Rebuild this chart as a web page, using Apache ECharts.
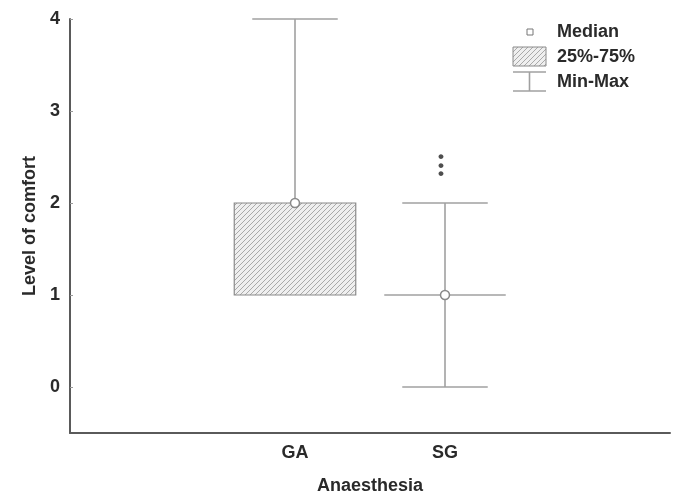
<!DOCTYPE html>
<html>
<head>
<meta charset="utf-8">
<script src="https://cdn.jsdelivr.net/npm/echarts@6/dist/echarts.min.js"></script>
<style>html,body{margin:0;padding:0;background:#fff}#c{width:675px;height:496px}</style>
</head>
<body>
<div id="c"></div>
<script>
// ---- data ----
const categories = ['', 'GA', 'SG', ''];
const groups = ['GA', 'SG'];
const minVals = [1, 0];
const q1Vals = [1, 1];
const medianVals = [2, 1];
const q3Vals = [2, 1];
const maxVals = [4, 2];
const yTicks = [0, 1, 2, 3, 4];
const sigGroup = 'SG';
const sigValue = 2.4;
const sigLabel = '•\n•\n•';
const legendLabels = ['Median', '25%-75%', 'Min-Max'];

// ---- hatch pattern ----
function makeHatch() {
  const s = 5;
  const c = document.createElement('canvas');
  c.width = s; c.height = s;
  const g = c.getContext('2d');
  g.fillStyle = '#efefef';
  g.fillRect(0, 0, s, s);
  g.strokeStyle = '#a9a9a9';
  g.lineWidth = 1;
  g.beginPath();
  g.moveTo(0, s); g.lineTo(s, 0);
  g.moveTo(-1, 1); g.lineTo(1, -1);
  g.moveTo(s - 1, s + 1); g.lineTo(s + 1, s - 1);
  g.stroke();
  return c;
}
const hatch = makeHatch();
const hatchFill = { image: hatch, repeat: 'repeat' };

const FONT = '"Liberation Sans", Arial, sans-serif';
const TXT = '#2a2a2a';
const LINE = '#a0a0a0';
const FS = 18;

const boxData = groups.map((g, i) => [g, minVals[i], q1Vals[i], medianVals[i], q3Vals[i], maxVals[i]]);
const medianData = groups.map((g, i) => [g, medianVals[i]]);

const chart = echarts.init(document.getElementById('c'), null, { renderer: 'canvas' });

function renderBox(params, api) {
  const x = api.value(0);
  const vMin = api.value(1), vQ1 = api.value(2), vQ3 = api.value(4), vMax = api.value(5);
  const band = api.size([1, 0])[0];
  const boxW = band * 0.81;
  const capW = band * 0.57;
  const pMin = api.coord([x, vMin]);
  const pQ1 = api.coord([x, vQ1]);
  const pQ3 = api.coord([x, vQ3]);
  const pMax = api.coord([x, vMax]);
  const cx = pQ1[0];
  const ls = { stroke: LINE, lineWidth: 1.6 };
  const children = [];
  if (vMax > vQ3) {
    children.push({ type: 'line', shape: { x1: cx, y1: pMax[1], x2: cx, y2: pQ3[1] }, style: ls });
    children.push({ type: 'line', shape: { x1: cx - capW / 2, y1: pMax[1], x2: cx + capW / 2, y2: pMax[1] }, style: ls });
  }
  if (vMin < vQ1) {
    children.push({ type: 'line', shape: { x1: cx, y1: pQ1[1], x2: cx, y2: pMin[1] }, style: ls });
    children.push({ type: 'line', shape: { x1: cx - capW / 2, y1: pMin[1], x2: cx + capW / 2, y2: pMin[1] }, style: ls });
  }
  if (vQ3 > vQ1) {
    children.push({ type: 'rect', shape: { x: cx - boxW / 2, y: pQ3[1], width: boxW, height: pQ1[1] - pQ3[1] },
      style: { fill: hatchFill, stroke: '#8a8a8a', lineWidth: 1.2 } });
  } else {
    children.push({ type: 'line', shape: { x1: cx - boxW / 2, y1: pQ1[1], x2: cx + boxW / 2, y2: pQ1[1] }, style: ls });
  }
  return { type: 'group', children };
}

const legendX = 513, legendY = 22;
const option = {
  animation: false,
  backgroundColor: '#fff',
  grid: { left: 70, right: 5, top: 19, bottom: 63, containLabel: false, outerBoundsMode: 'none' },
  xAxis: {
    type: 'category',
    data: categories,
    boundaryGap: true,
    name: 'Anaesthesia',
    nameLocation: 'middle',
    nameGap: 44,
    nameTextStyle: { fontFamily: FONT, fontWeight: 'bold', fontSize: FS, color: TXT },
    axisLine: { onZero: false, lineStyle: { color: '#5a5a5a', width: 2 } },
    axisTick: { show: false },
    axisLabel: { fontFamily: FONT, fontWeight: 'bold', fontSize: FS, color: TXT, margin: 11 },
    splitLine: { show: false }
  },
  yAxis: {
    type: 'value',
    min: -0.5,
    max: 4,
    interval: 0.5,
    name: 'Level of comfort',
    nameLocation: 'middle',
    nameGap: 31,
    nameTextStyle: { fontFamily: FONT, fontWeight: 'bold', fontSize: FS, color: TXT },
    axisLine: { show: true, onZero: false, lineStyle: { color: '#5a5a5a', width: 2 } },
    axisTick: { show: true, inside: true, length: 3, lineStyle: { color: '#999' },
      customValues: yTicks },
    axisLabel: { fontFamily: FONT, fontWeight: 'bold', fontSize: FS, color: TXT, margin: 10,
      customValues: yTicks },
    splitLine: { show: false }
  },
  series: [
    {
      type: 'custom',
      renderItem: renderBox,
      data: boxData,
      encode: { x: 0, y: [1, 2, 3, 4, 5] },
      z: 2
    },
    {
      type: 'scatter',
      data: medianData,
      symbol: 'circle',
      symbolSize: 9,
      itemStyle: { color: '#fff', borderColor: '#8a8a8a', borderWidth: 1.5, opacity: 1 },
      z: 3
    },
    {
      type: 'scatter',
      data: [[sigGroup, sigValue]],
      symbolSize: 0,
      label: { show: true, position: 'inside', formatter: sigLabel, fontSize: 17, lineHeight: 8.5,
        color: '#222', fontFamily: FONT, fontWeight: 'bold', offset: [-4, 0] },
      z: 4
    }
  ],
  graphic: [
    { type: 'rect', shape: { x: legendX + 14, y: legendY + 7, width: 6, height: 6 },
      style: { fill: '#fff', stroke: '#777', lineWidth: 1 } },
    { type: 'text', x: legendX + 44, y: legendY + 10,
      style: { text: legendLabels[0], font: 'bold ' + FS + 'px ' + FONT, fill: TXT, verticalAlign: 'middle' } },
    { type: 'rect', shape: { x: legendX, y: legendY + 25, width: 33, height: 19 },
      style: { fill: hatchFill, stroke: '#8a8a8a', lineWidth: 1 } },
    { type: 'text', x: legendX + 44, y: legendY + 35,
      style: { text: legendLabels[1], font: 'bold ' + FS + 'px ' + FONT, fill: TXT, verticalAlign: 'middle' } },
    { type: 'line', shape: { x1: legendX, y1: legendY + 50, x2: legendX + 33, y2: legendY + 50 },
      style: { stroke: LINE, lineWidth: 1.6 } },
    { type: 'line', shape: { x1: legendX + 16.5, y1: legendY + 50, x2: legendX + 16.5, y2: legendY + 69 },
      style: { stroke: LINE, lineWidth: 1.6 } },
    { type: 'line', shape: { x1: legendX, y1: legendY + 69, x2: legendX + 33, y2: legendY + 69 },
      style: { stroke: LINE, lineWidth: 1.6 } },
    { type: 'text', x: legendX + 44, y: legendY + 60,
      style: { text: legendLabels[2], font: 'bold ' + FS + 'px ' + FONT, fill: TXT, verticalAlign: 'middle' } }
  ]
};
chart.setOption(option);
</script>
</body>
</html>
